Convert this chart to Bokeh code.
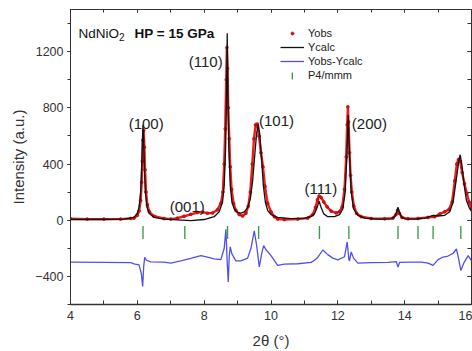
import math
from bokeh.plotting import figure
from bokeh.models import (Range1d, LinearAxis, SingleIntervalTicker, Label, Legend, LegendItem,
                          CustomJSTickFormatter)
from bokeh.embed import file_html
from bokeh.resources import INLINE

# ---------------- data ----------------
obs_x = [4.0, 4.5, 5.0, 5.5, 5.8, 5.9, 6.0, 6.05, 6.10, 6.13, 6.15, 6.17, 6.19, 6.21, 6.23, 6.26,
         6.30, 6.36, 6.5, 6.8, 7.0, 7.2, 7.4, 7.6, 7.8, 7.95, 8.1, 8.25, 8.4, 8.5, 8.56, 8.60,
         8.63, 8.66, 8.68, 8.70, 8.72, 8.75, 8.78, 8.82, 8.88, 8.95, 9.05, 9.15, 9.25, 9.32,
         9.38, 9.44, 9.49, 9.54, 9.59, 9.64, 9.70, 9.76, 9.82, 9.9, 10.0, 10.1, 10.2, 10.4,
         10.8, 11.1, 11.25, 11.33, 11.39, 11.44, 11.5, 11.58, 11.68, 11.8, 11.95, 12.05, 12.13,
         12.2, 12.25, 12.28, 12.30, 12.32, 12.35, 12.38, 12.42, 12.48, 12.56, 12.7, 13.0, 13.4,
         13.65, 13.74, 13.79, 13.84, 13.92, 14.1, 14.4, 14.7, 14.9, 15.05, 15.2, 15.32, 15.42,
         15.5, 15.56, 15.61, 15.66, 15.72, 15.79, 15.86, 15.93, 16.0]
obs_y = [10, 8, 8, 8, 12, 15, 35, 65, 140, 270, 420, 570, 640, 520, 360, 200,
         110, 60, 28, 12, 8, 15, 28, 42, 55, 58, 50, 52, 75, 120, 200, 400,
         650, 1000, 1230, 1080, 800, 580, 380, 220, 120, 70, 40, 30, 50, 100,
         200, 400, 580, 680, 685, 600, 480, 380, 240, 120, 60, 25, 8, 5,
         8, 15, 40, 90, 145, 172, 162, 130, 95, 65, 52, 60, 95,
         220, 450, 680, 807, 700, 480, 320, 200, 100, 50, 25, 12, 10,
         15, 40, 70, 50, 20, 10, 12, 20, 25, 45, 60, 75, 130,
         280, 400, 432, 420, 340, 260, 190, 130, 80]

calc_x = [4.0, 5.0, 5.6, 5.9, 6.0, 6.05, 6.10, 6.13, 6.15, 6.17, 6.19, 6.21, 6.24, 6.29, 6.35,
          6.5, 6.8, 7.2, 7.6, 8.0, 8.3, 8.45, 8.55, 8.60, 8.64, 8.67, 8.69, 8.71, 8.74, 8.78,
          8.83, 8.9, 9.0, 9.1, 9.2, 9.3, 9.38, 9.45, 9.52, 9.57, 9.62, 9.67, 9.72, 9.77, 9.83,
          9.9, 10.0, 10.2, 10.6, 11.0, 11.2, 11.3, 11.38, 11.44, 11.5, 11.58, 11.7, 11.9, 12.05,
          12.15, 12.22, 12.27, 12.31, 12.35, 12.40, 12.47, 12.6, 12.8, 13.2, 13.6, 13.7, 13.76,
          13.8, 13.84, 13.9, 14.0, 14.3, 14.6, 14.85, 15.0, 15.2, 15.35, 15.45, 15.55, 15.62,
          15.66, 15.71, 15.78, 15.85, 15.93, 16.0]
calc_y = [5, 5, 8, 20, 50, 90, 200, 380, 560, 680, 560, 380, 200, 90, 50,
          20, 8, 3, -3, 5, 25, 60, 130, 250, 500, 900, 1330, 900, 500, 250,
          130, 80, 55, 50, 60, 90, 150, 280, 480, 620, 680, 600, 430, 250, 130,
          70, 40, 20, 12, 15, 25, 45, 90, 136, 90, 45, 25, 25, 40,
          80, 200, 450, 748, 450, 200, 80, 35, 15, 8, 10, 25, 60,
          92, 60, 25, 10, 8, 15, 35, 30, 35, 60, 130, 300, 420,
          466, 400, 250, 140, 90, 65]

diff_x = [4.0, 5.0, 5.8, 5.9, 6.05, 6.12, 6.16, 6.19, 6.22, 6.27, 6.4, 6.8, 7.0, 7.3, 7.6,
          7.9, 8.1, 8.3, 8.5, 8.6, 8.65, 8.69, 8.72, 8.75, 8.78, 8.83, 8.95, 9.1, 9.3, 9.4,
          9.5, 9.57, 9.65, 9.72, 9.78, 9.85, 10.0, 10.2, 10.4, 10.8, 11.2, 11.3, 11.4, 11.55,
          11.7, 11.85, 12.0, 12.2, 12.28, 12.33, 12.35, 12.4, 12.47, 12.6, 13.0, 13.5, 13.75,
          13.8, 13.85, 14.2, 14.5, 14.7, 14.85, 15.0, 15.15, 15.3, 15.45, 15.55, 15.62, 15.68,
          15.78, 15.9, 16.0]
diff_y = [-298, -300, -302, -310, -318, -380, -472, -330, -265, -285, -296, -298, -305, -290, -272,
          -252, -262, -275, -280, -200, -64, -300, -440, -260, -190, -240, -290, -290, -270, -200,
          -75, -180, -333, -240, -181, -210, -252, -322, -312, -310, -300, -285, -265, -212,
          -245, -270, -282, -260, -155, -280, -290, -226, -270, -305, -302, -300, -295,
          -333, -300, -298, -298, -305, -322, -280, -262, -255, -235, -205, -280, -358,
          -300, -252, -287]

reflections = [6.17, 7.42, 8.70, 9.63, 11.45, 12.33, 13.80, 14.40, 14.85, 15.68]
refl_top = [-42] * len(reflections)
refl_bottom = [-134] * len(reflections)

hkl_labels = ["(100)", "(001)", "(110)", "(101)", "(111)", "(200)"]
hkl_x = [5.74, 6.97, 7.54, 9.64, 11.0, 12.42]
hkl_y = [692, 99, 1130, 713, 226, 692]

FONT = "Liberation Sans"
AX = "#333333"

p = figure(width=472, height=351, x_range=Range1d(4, 16), y_range=Range1d(-600, 1500),
           output_backend="svg", toolbar_location=None,
           min_border_left=70, min_border_right=1, min_border_top=9, min_border_bottom=45)
p.grid.visible = False
p.outline_line_color = AX
p.background_fill_color = "white"
p.border_fill_color = "white"

# axes
xa = p.xaxis[0]
xa.ticker = SingleIntervalTicker(interval=2, num_minor_ticks=2)
xa.major_tick_in = 4
xa.major_tick_out = 0
xa.minor_tick_in = 4
xa.minor_tick_out = 0
xa.major_label_standoff = 6
xa.axis_line_width = 1.5
xa.axis_label = "2θ (°)"
xa.axis_label_standoff = 9

ya = p.yaxis[0]
ya.ticker = SingleIntervalTicker(interval=400, num_minor_ticks=2)
ya.major_tick_in = 0
ya.major_tick_out = 3
ya.minor_tick_in = 0
ya.minor_tick_out = 3
ya.major_label_standoff = 4
ya.axis_label = "Intensity (a.u.)"
ya.axis_label_standoff = 5

for ax in (xa, ya):
    ax.axis_line_color = AX
    ax.major_tick_line_color = AX
    ax.minor_tick_line_color = AX
    ax.major_label_text_font = FONT
    ax.major_label_text_font_size = "12.5px"
    ax.major_label_text_color = AX
    ax.axis_label_text_font = FONT
    ax.axis_label_text_font_size = "15px"
    ax.axis_label_text_font_style = "normal"
    ax.axis_label_text_color = AX

blank = CustomJSTickFormatter(code="return ''")
top = LinearAxis(ticker=SingleIntervalTicker(interval=2, num_minor_ticks=2), formatter=blank,
                 major_tick_in=3, major_tick_out=0, minor_tick_in=3, minor_tick_out=0,
                 major_label_text_font_size="1px", major_label_standoff=0,
                 axis_line_color=AX, major_tick_line_color=AX, minor_tick_line_color=AX)
right = LinearAxis(ticker=SingleIntervalTicker(interval=400, num_minor_ticks=2), formatter=blank,
                   major_tick_in=4, major_tick_out=0, minor_tick_in=4, minor_tick_out=0,
                   major_label_text_font_size="1px", major_label_standoff=0,
                   axis_line_color=AX, major_tick_line_color=AX, minor_tick_line_color=AX)
p.add_layout(top, "above")
p.add_layout(right, "right")

# glyphs
r_diff = p.line(diff_x, diff_y, line_color="#4f4ff0", line_width=1.3)
r_obs_line = p.line(obs_x, obs_y, line_color="#ee1c1c", line_width=2.4)
r_obs = p.scatter(obs_x, obs_y, marker="circle", size=3.0, fill_color="#e01010",
                  line_color="#a00000", line_width=0.5)
r_calc = p.line(calc_x, calc_y, line_color="#111111", line_width=1.3)
r_refl = p.vbar(x=reflections, top=refl_top, bottom=refl_bottom, width=0.04,
                fill_color="#3a9a45", line_color=None)

common = dict(border_line_color=None, background_fill_alpha=0, padding=0, margin=0, spacing=0,
              label_height=14, label_text_font=FONT, label_text_font_size="11px",
              label_text_color="#222222")
legend_a = Legend(items=[
    LegendItem(label="Yobs", renderers=[r_obs]),
    LegendItem(label="Ycalc", renderers=[r_calc]),
    LegendItem(label="Yobs-Ycalc", renderers=[r_diff]),
], location=(210, 236), glyph_width=24, glyph_height=8, label_standoff=4, **common)
legend_b = Legend(items=[
    LegendItem(label="P4/mmm", renderers=[r_refl]),
], location=(221, 222), glyph_width=2, glyph_height=9, label_standoff=15, **common)
p.add_layout(legend_a)
p.add_layout(legend_b)

# peak labels
for t, x, y in zip(hkl_labels, hkl_x, hkl_y):
    p.add_layout(Label(x=x, y=y, text=t, text_font=FONT, text_font_size="15px",
                       text_color="#222222", text_align="left", text_baseline="middle"))

# title
p.add_layout(Label(x=4.24, y=1329, text="NdNiO", text_font=FONT, text_font_size="13.5px",
                   text_color="#111111", text_baseline="alphabetic"))
p.add_layout(Label(x=5.45, y=1301, text="2", text_font=FONT, text_font_size="10px",
                   text_color="#111111", text_baseline="alphabetic"))
p.add_layout(Label(x=5.915, y=1329, text="HP = 15 GPa", text_font=FONT,
                   text_font_size="13.5px", text_font_style="bold",
                   text_color="#111111", text_baseline="alphabetic"))

open("out.html", "w").write(file_html(p, INLINE))
